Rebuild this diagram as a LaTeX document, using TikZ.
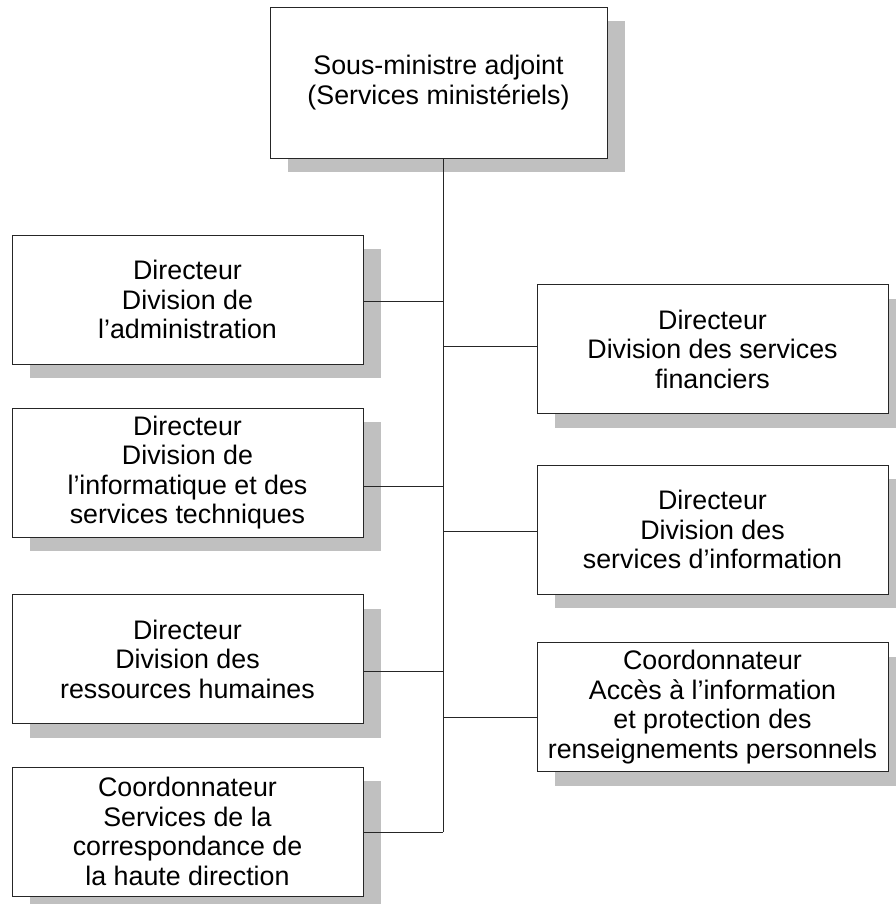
\documentclass[tikz,border=0pt]{standalone}
\usepackage{fontspec}
\setmainfont{Liberation Sans}
\usetikzlibrary{shadows, positioning, calc}
\definecolor{shadowgray}{RGB}{192,192,192}

\begin{document}
\begin{tikzpicture}[x=1pt, y=1pt]
    \tikzstyle{unit}=[rectangle, draw=black!85, line width=0.8pt, fill=white, align=center, inner sep=0pt,
        minimum width=351pt, minimum height=129pt, font=\fontsize{26.8}{29.5}\selectfont,
        drop shadow={shadow xshift=18pt, shadow yshift=-14pt, fill=shadowgray, opacity=1}];
    \tikzstyle{link}=[draw=black!85, line width=0.8pt];
    \useasboundingbox (0,0) rectangle (895,-904);

    \node[unit, minimum width=337pt, minimum height=151pt] (top) at (438.5, -82.5)
    {Sous-ministre adjoint\\(Services ministériels)};

    % left column
    \node[unit] (l1) at (187.5, -299.5) {Directeur\\Division de\\l’administration};
    \node[unit] (l2) at (187.5, -472.5) {Directeur\\Division de\\l’informatique et des\\services techniques};
    \node[unit] (l3) at (187.5, -659) {Directeur\\Division des\\ressources humaines};
    \node[unit] (l4) at (187.5, -831.5) {Coordonnateur\\Services de la\\correspondance de\\la haute direction};

    % right column
    \node[unit] (r1) at (712.5, -349) {Directeur\\Division des services\\financiers};
    \node[unit] (r2) at (712.5, -529.5) {Directeur\\Division des\\services d’information};
    \node[unit] (r3) at (712.5, -707) {Coordonnateur\\Accès à l’information\\et protection des\\renseignements personnels};

    % trunk and branches
    \coordinate (jl1) at (443, -301);
    \coordinate (jl2) at (443, -486);
    \coordinate (jl3) at (443, -671);
    \coordinate (jl4) at (443, -832);
    \coordinate (jr1) at (443, -346);
    \coordinate (jr2) at (443, -531);
    \coordinate (jr3) at (443, -717);

    \draw[link] (top.south -| jl4) -- (jl4);
    \foreach \n in {1,...,4}
        \draw[link] (jl\n) -- (jl\n -| l\n.east);
    \foreach \n in {1,...,3}
        \draw[link] (jr\n) -- (jr\n -| r\n.west);
\end{tikzpicture}
\end{document}
